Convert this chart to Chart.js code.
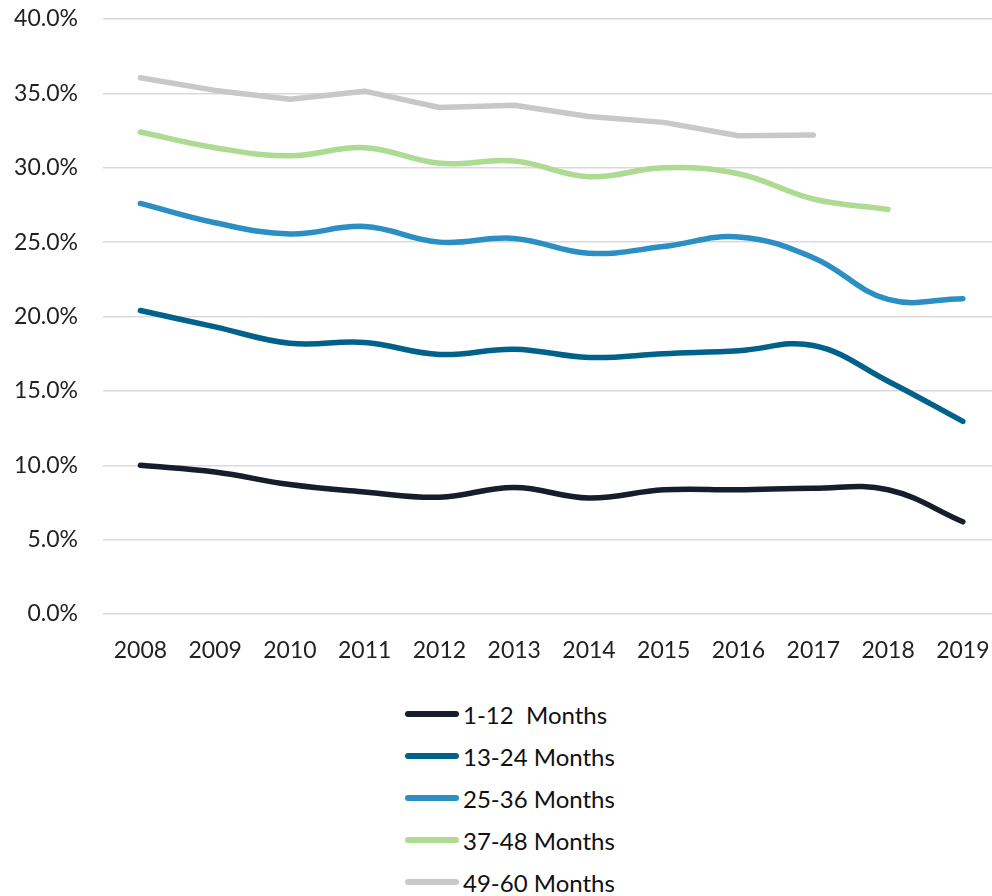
<!DOCTYPE html>
<html>
<head>
<meta charset="utf-8">
<script src="https://cdn.jsdelivr.net/npm/chart.js@4.4.1/dist/chart.umd.min.js"></script>
<style>
  html, body { margin: 0; background: #fff; overflow: hidden; font-family: Lato, "Noto Sans", sans-serif; }
  #wrap { position: relative; width: 992px; height: 680px; }
  #legend { position: absolute; left: 405px; top: 693px; }
  .item { display: flex; align-items: center; height: 42px; font-size: 24px; color: #111; white-space: pre; }
  .swatch { width: 54px; height: 6px; border-radius: 3px; margin-right: 4px; }
</style>
</head>
<body>
<div id="wrap"><canvas id="trendChart"></canvas></div>
<div id="legend"></div>
<script>
var years = [2008, 2009, 2010, 2011, 2012, 2013, 2014, 2015, 2016, 2017, 2018, 2019];
var m1to12 = [10.0, 9.55, 8.7, 8.2, 7.85, 8.5, 7.8, 8.35, 8.35, 8.45, 8.35, 6.2];
var m13to24 = [20.4, 19.3, 18.2, 18.25, 17.45, 17.8, 17.25, 17.5, 17.7, 18.05, 15.65, 12.95];
var m25to36 = [27.6, 26.3, 25.55, 26.05, 25.0, 25.25, 24.25, 24.7, 25.35, 23.95, 21.15, 21.2];
var m37to48 = [32.4, 31.35, 30.8, 31.35, 30.3, 30.45, 29.4, 30.0, 29.6, 27.9, 27.2];
var m49to60 = [36.05, 35.2, 34.6, 35.15, 34.05, 34.2, 33.45, 33.05, 32.15, 32.2];
var seriesNames = ['1-12  Months', '13-24 Months', '25-36 Months', '37-48 Months', '49-60 Months'];
var seriesColors = ['#161e2b', '#00618a', '#2b8fc4', '#acdb91', '#c8c8c8'];
var yTicks = [0, 5, 10, 15, 20, 25, 30, 35, 40];

function toPoints(values) {
    return values.map(function (v, i) { return { x: years[i], y: v }; });
}

var allSeries = [m1to12, m13to24, m25to36, m37to48, m49to60];
var datasets = allSeries.map(function (values, i) {
    return {
        label: seriesNames[i],
        data: toPoints(values),
        borderColor: seriesColors[i],
        backgroundColor: seriesColors[i],
        borderWidth: 5.5,
        borderCapStyle: 'round',
        borderJoinStyle: 'round',
        pointRadius: 0,
        tension: i === 4 ? 0 : 0.4,
        fill: false
    };
});

var ctx = document.getElementById('trendChart').getContext('2d');
var chart = new Chart(ctx, {
    type: 'line',
    data: { datasets: datasets },
    options: {
        responsive: true,
        maintainAspectRatio: false,
        animation: false,
        layout: { padding: { top: 19, right: 0, left: 0, bottom: 0 } },
        plugins: {
            legend: { display: false },
            tooltip: { enabled: false }
        },
        scales: {
            x: {
                type: 'linear',
                min: 2007.5,
                max: 2019.39,
                grid: { display: false },
                border: { display: false },
                afterBuildTicks: function (scale) {
                    scale.ticks = years.map(function (y) { return { value: y }; });
                },
                afterFit: function (scale) {
                    scale.height = 66;
                    scale.paddingLeft = 0;
                    scale.paddingRight = 0;
                },
                ticks: {
                    padding: 15,
                    maxRotation: 0,
                    autoSkip: false,
                    color: '#222',
                    font: { family: 'Lato', size: 23 },
                    callback: function (v) { return String(v); }
                }
            },
            y: {
                min: 0,
                max: 40,
                afterBuildTicks: function (scale) {
                    scale.ticks = yTicks.map(function (t) { return { value: t }; });
                },
                afterFit: function (scale) {
                    scale.width = 103;
                    scale.paddingTop = 0;
                    scale.paddingBottom = 0;
                },
                grid: { color: '#d9d9d9', lineWidth: 1.5, drawTicks: false },
                border: { display: false },
                ticks: {
                    padding: 25,
                    color: '#222',
                    font: { family: 'Lato', size: 23 },
                    callback: function (v) { return v.toFixed(1) + '%'; }
                }
            }
        }
    }
});

var legend = document.getElementById('legend');
chart.data.datasets.forEach(function (ds) {
    var row = document.createElement('div');
    row.className = 'item';
    var sw = document.createElement('span');
    sw.className = 'swatch';
    sw.style.background = ds.borderColor;
    var txt = document.createElement('span');
    txt.textContent = ds.label;
    row.appendChild(sw);
    row.appendChild(txt);
    legend.appendChild(row);
});
</script>
</body>
</html>
